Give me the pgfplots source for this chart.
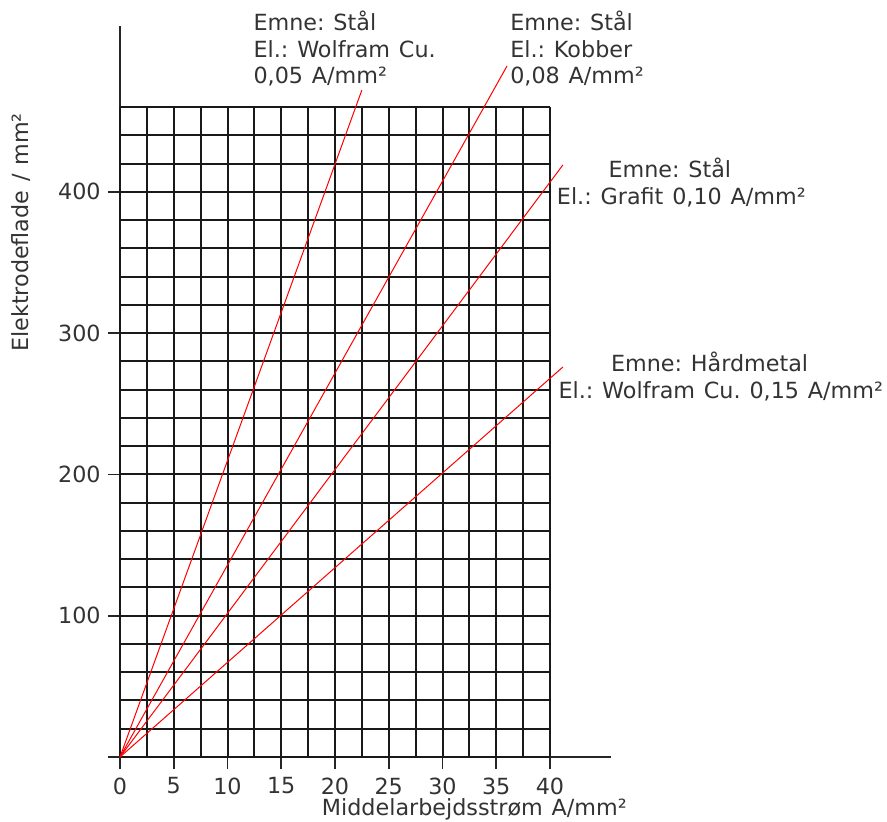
\documentclass[border=0pt]{standalone}
\usepackage{pgfplots}
\pgfplotsset{compat=1.18}
\usepackage{fontspec}
\setmainfont{DejaVu Sans}[WordSpace=1.25]
\frenchspacing
\newcommand{\ff}{\fontsize{16.7}{20}\selectfont\frenchspacing}
\begin{document}
\begin{tikzpicture}
\begin{axis}[
  name=ax,
  x=8.0625pt, y=1.05975pt,
  xmin=0, xmax=45.7, ymin=0, ymax=517,
  axis x line=bottom, axis y line=left,
  axis line style={-, line width=1.5pt, black!85},
  xtick={0,5,...,40},
  ytick={0,100,200,300,400},
  yticklabels={,100,200,300,400},
  tick align=outside,
  major tick length=9pt,
  tick style={line width=1.2pt, black!85},
  /pgf/number format/assume math mode=true,
  ticklabel style={font=\ff, text=black!80},
  xticklabel style={yshift=-3pt},
  yticklabel style={xshift=-2pt},
  clip=false,
]
\pgfplotsinvokeforeach{0,2.5,...,40}{
  \draw[line width=1.5pt, black!90] (axis cs:#1,0) -- (axis cs:#1,460);
}
\pgfplotsinvokeforeach{0,20,...,460}{
  \draw[line width=1.5pt, black!90] (axis cs:0,#1) -- (axis cs:40,#1);
}
\addplot[red, line width=0.75pt] coordinates {(0,0) (22.5,472)};
\addplot[red, line width=0.75pt] coordinates {(0,0) (36.0,489)};
\addplot[red, line width=0.75pt] coordinates {(0,0) (41.2,419)};
\addplot[red, line width=0.75pt] coordinates {(0,0) (41.2,276)};

\begin{scope}[every node/.style={font=\ff, text=black!80, anchor=base west, inner sep=0pt}]
\node at (axis cs:12.4,514.0) {Emne: Stål};
\node at (axis cs:12.4,495.2) {El.: Wolfram Cu.};
\node at (axis cs:12.4,476.8) {0,05 A/mm²};
\node at (axis cs:36.28,514.0) {Emne: Stål};
\node at (axis cs:36.28,495.2) {El.: Kobber};
\node at (axis cs:36.28,476.8) {0,08 A/mm²};
\node at (axis cs:45.42,410.3) {Emne: Stål};
\node at (axis cs:40.62,390.7) {El.: Grafit 0,10 A/mm²};
\node at (axis cs:45.65,272.7) {Emne: Hårdmetal};
\node at (axis cs:40.77,253.9) {El.: Wolfram Cu. 0,15 A/mm²};
\node at (axis cs:18.76,-41.05) {Middelarbejdsstrøm A/mm²};
\end{scope}
\node[font=\ff, text=black!80, rotate=90, inner sep=0pt] at (axis cs:-9.16,371.2) {Elektrodeflade / mm²};
\end{axis}
\pgfresetboundingbox
\path[use as bounding box] (ax.origin) ++(-90pt,-48pt) rectangle ++(665.25pt,615.75pt);
\end{tikzpicture}
\end{document}
